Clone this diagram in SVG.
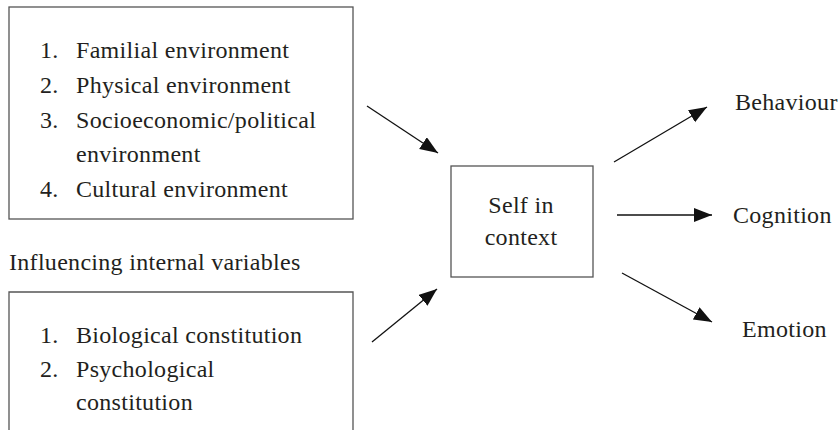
<svg xmlns="http://www.w3.org/2000/svg" width="839" height="430" viewBox="0 0 839 430">
<style>
text{font-family:"Liberation Serif","Times New Roman",serif;font-size:24px;letter-spacing:0.3px;fill:#231f20}
.box{fill:#fff;stroke:#555;stroke-width:1.3}
.arr{stroke:#111;stroke-width:1.3;fill:none;marker-end:url(#ah)}
</style>
<defs>
<marker id="ah" markerUnits="userSpaceOnUse" markerWidth="20" markerHeight="15" refX="18" refY="7" orient="auto">
<path d="M0,0 L18,7 L0,14 z" fill="#111"/>
</marker>
</defs>
<rect width="839" height="430" fill="#fff"/>
<g id="external">
<rect class="box" x="9" y="7" width="344" height="212"/>
<text x="40" y="58">1.</text><text x="76" y="58">Familial environment</text>
<text x="40" y="93">2.</text><text x="76" y="93">Physical environment</text>
<text x="40" y="128">3.</text><text x="76" y="128">Socioeconomic/political</text>
<text x="76" y="162">environment</text>
<text x="40" y="197">4.</text><text x="76" y="197">Cultural environment</text>
</g>
<g id="internal-label">
<text x="9" y="270">Influencing internal variables</text>
</g>
<g id="internal">
<path class="box" d="M9,432 V292 H353 V432"/>
<text x="40" y="343">1.</text><text x="76" y="343">Biological constitution</text>
<text x="40" y="377">2.</text><text x="76" y="377">Psychological</text>
<text x="76" y="410">constitution</text>
</g>
<g id="self">
<rect class="box" x="451" y="166" width="142" height="111"/>
<text x="521" y="213" text-anchor="middle">Self in</text>
<text x="521" y="245" text-anchor="middle">context</text>
</g>
<g id="behaviour"><text x="735" y="110">Behaviour</text></g>
<g id="cognition"><text x="733" y="223">Cognition</text></g>
<g id="emotion"><text x="742" y="337">Emotion</text></g>
<g id="connectors">
<line class="arr" x1="367" y1="106" x2="438" y2="153"/>
<line class="arr" x1="372" y1="342" x2="437" y2="289"/>
<line class="arr" x1="614" y1="162" x2="707" y2="107"/>
<line class="arr" x1="617" y1="215" x2="712" y2="215"/>
<line class="arr" x1="622" y1="273" x2="712" y2="322"/>
</g>
</svg>
